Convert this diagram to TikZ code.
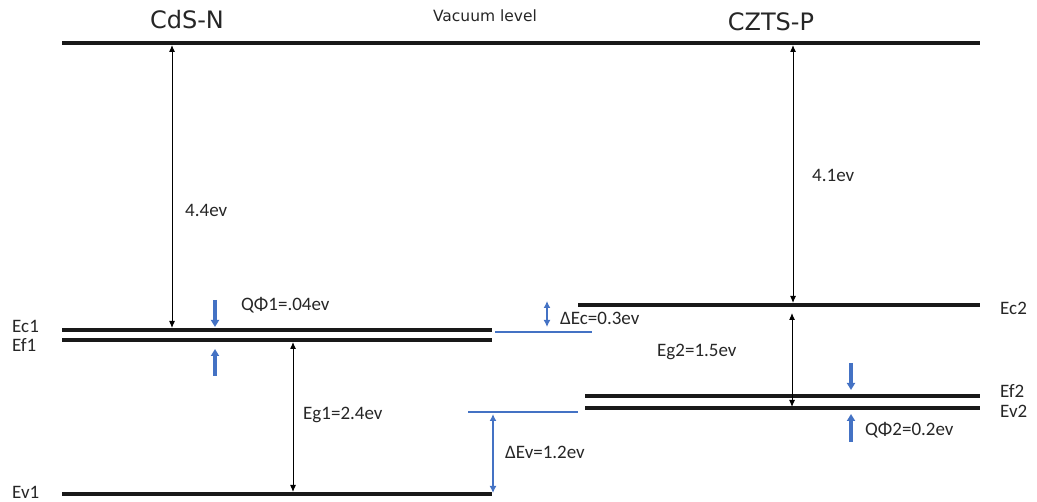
\documentclass[tikz,border=0pt]{standalone}
\usepackage{fontspec}
\setmainfont{Carlito}
\newfontfamily\titlefont{DejaVu Sans}
\usetikzlibrary{arrows.meta}
\definecolor{ofblue}{RGB}{68,114,196}
\tikzset{
  level/.style={line width=3.8pt, black!90},
  thinblue/.style={line width=1.4pt, ofblue},
  dim/.style={line width=1pt, {Latex[length=7pt,width=6pt]}-{Latex[length=7pt,width=6pt]}},
  bdim/.style={line width=1.5pt, ofblue, {Latex[length=7pt,width=7pt]}-{Latex[length=7pt,width=7pt]}},
  qarrow/.style={line width=3.4pt, ofblue, -{Triangle[length=7pt,width=8pt]}},
  lbl/.style={inner sep=0pt, anchor=west, font=\fontsize{19}{19}\selectfont, black!85},
  ttl/.style={inner sep=0pt, font=\titlefont\fontsize{24}{24}\selectfont, black!85},
}
\begin{document}
\begin{tikzpicture}[x=1pt,y=-1pt]
\useasboundingbox (0,0) rectangle (1037,502);
% titles
\node[ttl] (t1) at (187,20) {CdS-N};
\node[ttl] (t2) at (771,22) {CZTS-P};
\node[inner sep=0pt, font=\titlefont\fontsize{15.5}{15.5}\selectfont, black!85] (tv) at (485,16) {Vacuum level};
% levels
\coordinate (vacL) at (62,43); \coordinate (vacR) at (980,43);
\coordinate (ec1L) at (62,330); \coordinate (ec1R) at (492,330);
\coordinate (ef1L) at (62,340); \coordinate (ef1R) at (492,340);
\coordinate (ev1L) at (62,494); \coordinate (ev1R) at (492,494);
\coordinate (ec2L) at (578,305); \coordinate (ec2R) at (980,305);
\coordinate (ef2L) at (585,396); \coordinate (ef2R) at (980,396);
\coordinate (ev2L) at (585,408); \coordinate (ev2R) at (980,408);
\draw[level] (vacL) -- (vacR);
\draw[level] (ec1L) -- (ec1R);
\draw[level] (ef1L) -- (ef1R);
\draw[level] (ev1L) -- (ev1R);
\draw[level] (ec2L) -- (ec2R);
\draw[level] (ef2L) -- (ef2R);
\draw[level] (ev2L) -- (ev2R);
% blue reference lines
\coordinate (bc1) at (495,332); \coordinate (bc2) at (592,332);
\coordinate (bv1) at (468,412); \coordinate (bv2) at (578,412);
\draw[thinblue] (bc1) -- (bc2);
\draw[thinblue] (bv1) -- (bv2);
% black dimension arrows
\coordinate (a1t) at (172,45); \coordinate (a1b) at (172,328);
\draw[dim] (a1t) -- (a1b);
\coordinate (a2t) at (793,45); \coordinate (a2b) at (793,303);
\draw[dim] (a2t) -- (a2b);
\coordinate (a3t) at (293,342); \coordinate (a3b) at (293,492);
\draw[dim] (a3t) -- (a3b);
\coordinate (a4t) at (792,313); \coordinate (a4b) at (792,407);
\draw[dim] (a4t) -- (a4b);
% blue dimension arrows
\coordinate (b1t) at (547,301); \coordinate (b1b) at (547,327);
\draw[bdim] (b1t) -- (b1b);
\coordinate (b2t) at (493,414); \coordinate (b2b) at (493,493);
\draw[bdim] (b2t) -- (b2b);
% Q phi arrows
\coordinate (q1a) at (215,300); \coordinate (q1b) at (215,327);
\coordinate (q1c) at (215,376); \coordinate (q1d) at (215,349);
\draw[qarrow] (q1a) -- (q1b);
\draw[qarrow] (q1c) -- (q1d);
\coordinate (q2a) at (851,363); \coordinate (q2b) at (851,390);
\coordinate (q2c) at (851,442); \coordinate (q2d) at (851,414);
\draw[qarrow] (q2a) -- (q2b);
\draw[qarrow] (q2c) -- (q2d);
% labels
\node[lbl] (l44) at (185,210) {4.4ev};
\node[lbl] (l41) at (812,175) {4.1ev};
\node[lbl] (lq1) at (241,305) {QΦ1=.04ev};
\node[lbl] (ldc) at (560,318) {ΔEc=0.3ev};
\node[lbl] (leg2) at (657,352) {Eg2=1.5ev};
\node[lbl] (ldv) at (505,452) {ΔEv=1.2ev};
\node[lbl] (leg1) at (303,415) {Eg1=2.4ev};
\node[lbl] (lq2) at (865,430) {QΦ2=0.2ev};
\node[lbl] (lec1) at (12,326) {Ec1};
\node[lbl] (lef1) at (12,345) {Ef1};
\node[lbl] (lev1) at (12,492) {Ev1};
\node[lbl] (lec2) at (1000,308) {Ec2};
\node[lbl] (lef2) at (1000,391) {Ef2};
\node[lbl] (lev2) at (1000,411) {Ev2};
\end{tikzpicture}
\end{document}
